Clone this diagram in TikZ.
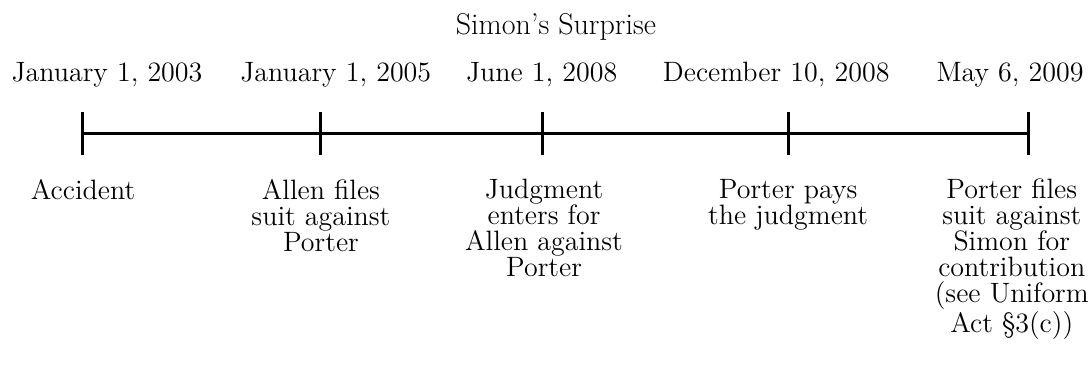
\documentclass[tikz,border=0pt]{standalone}
\tikzset{
  bar/.style={draw,line width=1.5pt},
  datelabel/.style={anchor=base,inner sep=0pt,font=\fontsize{14}{13}\selectfont},
  eventlabel/.style={anchor=north,inner sep=0pt,align=center,font=\fontsize{14}{13}\selectfont}
}
\begin{document}
\begin{tikzpicture}
\useasboundingbox (0,0) rectangle (19.19,6.80);
\node[anchor=base,inner sep=0pt,font=\fontsize{15}{15}\selectfont] (title) at (9.77,6.19) {Simon's Surprise};

\coordinate (1) at (1.45,4.46);
\coordinate (2) at (5.64,4.46);
\coordinate (3) at (9.54,4.46);
\coordinate (4) at (13.85,4.46);
\coordinate (5) at (18.08,4.46);

\node[datelabel] (d1) at (1.88,5.36) {January 1, 2003};
\node[datelabel] (d2) at (5.90,5.36) {January 1, 2005};
\node[datelabel] (d3) at (9.52,5.36) {June 1, 2008};
\node[datelabel] (d4) at (13.64,5.36) {December 10, 2008};
\node[datelabel] (d5) at (17.75,5.36) {May 6, 2009};

\path[bar] (1) -- (5);
\foreach \t in {1,...,5}
  \path[bar] ([yshift=0.38cm]\t) -- ([yshift=-0.38cm]\t);

\node[eventlabel] (e1) at (1.46,3.66) {Accident};
\node[eventlabel] (e2) at (5.64,3.66) {Allen files\\suit against\\Porter};
\node[eventlabel] (e3) at (9.56,3.66) {Judgment\\enters for\\Allen against\\Porter};
\node[eventlabel] (e4) at (13.85,3.66) {Porter pays\\the judgment};
\node[eventlabel] (e5) at (17.78,3.66) {Porter files\\suit against\\Simon for\\contribution\\(see Uniform\\Act \S3(c))};
\end{tikzpicture}
\end{document}
